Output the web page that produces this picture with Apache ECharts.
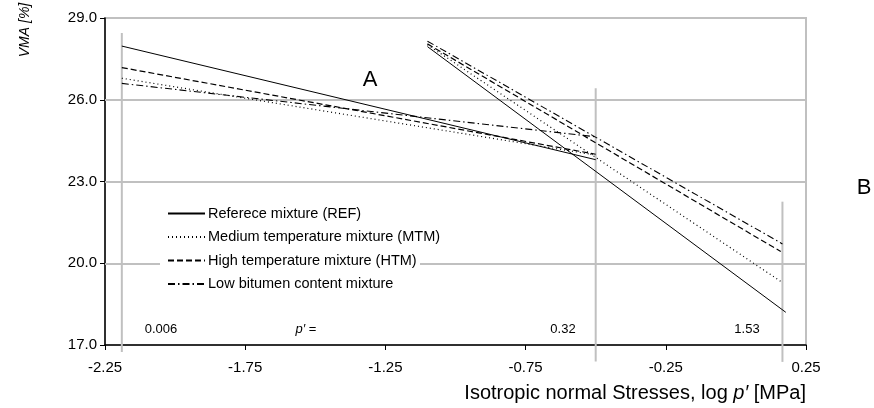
<!DOCTYPE html>
<html><head><meta charset="utf-8">
<script src="https://cdn.jsdelivr.net/npm/echarts@6/dist/echarts.min.js"></script>
<style>html,body{margin:0;padding:0;background:#fff}#c{width:874px;height:408px}</style>
</head><body><div id="c"></div>
<script>
// ---- data ----
const seriesNames = ['Referece mixture (REF)','Medium temperature mixture (MTM)','High temperature mixture (HTM)','Low bitumen content mixture'];
// first (flat) branch: x = log p'
const flatX = [-2.19, -0.50];
const flatREF = [27.97, 23.80];
const flatMTM = [26.79, 23.97];
const flatHTM = [27.18, 24.00];
const flatLBC = [26.60, 24.64];
// second (steep) branch
const steepX_REF = [-1.10, 0.178];
const steepX_MTM = [-1.10, 0.166];
const steepX_HTM = [-1.10, 0.160];
const steepX_LBC = [-1.10, 0.166];
const steepREF = [27.95, 18.20];
const steepMTM = [28.02, 19.29];
const steepHTM = [28.05, 20.43];
const steepLBC = [28.15, 20.71];
// stress markers p' = 0.006, 0.32, 1.53
const markerX = [-2.19, -0.50, 0.166];
const markerTop = [28.45, 26.42, 22.26];
const markerBottom = [16.74, 16.39, 16.38];
const markerLabels = ['0.006', '0.32', '1.53'];
const xTicks = [-2.25, -1.75, -1.25, -0.75, -0.25, 0.25];
const yTicks = [17, 20, 23, 26, 29];
const yGrid = [20, 23, 26];

const styles = [
  {type:'solid', width:1},
  {type:[1,3], width:1.2},
  {type:[6,3], width:1.2},
  {type:[7,3,1.5,3], width:1.1}
];
const flats = [flatREF, flatMTM, flatHTM, flatLBC];
const steeps = [steepREF, steepMTM, steepHTM, steepLBC];
const steepXs = [steepX_REF, steepX_MTM, steepX_HTM, steepX_LBC];

const series = [];
seriesNames.forEach((n,i)=>{
  const ls = Object.assign({color:'#000'}, styles[i]);
  series.push({name:n, type:'line', symbol:'none', lineStyle:ls, itemStyle:{color:'transparent'}, z:5,
    data: flatX.map((x,k)=>[x, flats[i][k]])});
  series.push({name:n, type:'line', symbol:'none', lineStyle:ls, itemStyle:{color:'transparent'}, z:5,
    data: steepXs[i].map((x,k)=>[x, steeps[i][k]])});
});
markerX.forEach((x,i)=>{
  const s = {type:'line', symbol:'none', clip:false, silent:true, z:2,
    lineStyle:{color:'#c0c0c0', width:2}, data:[[x, markerTop[i]],[x, markerBottom[i]]]};
  if(i===0){
    s.markLine = {silent:true, symbol:'none', label:{show:false}, z:1,
      lineStyle:{color:'#c0c0c0', width:2, type:'solid'}, data: yGrid.map(v=>({yAxis:v}))};
  }
  series.push(s);
});

const F = 'Liberation Sans, Arial, sans-serif';
const chart = echarts.init(document.getElementById('c'), null, {renderer:'canvas'});
chart.setOption({
  animation:false,
  backgroundColor:'#fff',
  textStyle:{fontFamily:F},
  grid:{left:105, right:68, top:18, bottom:63, show:true, borderColor:'#c0c0c0', borderWidth:2},
  xAxis:{type:'value', min:-2.25, max:0.25,
    axisLine:{onZero:false, lineStyle:{color:'#000', width:1.5}},
    axisTick:{customValues:xTicks, length:5, lineStyle:{color:'#000'}},
    axisLabel:{customValues:xTicks, formatter:v=>v.toFixed(2), color:'#000', fontSize:15, margin:15, fontFamily:F},
    splitLine:{show:false}},
  yAxis:{type:'value', min:17, max:29,
    axisLine:{show:true, onZero:false, lineStyle:{color:'#000', width:1.5}},
    axisTick:{show:true, customValues:yTicks, length:5, lineStyle:{color:'#000'}},
    axisLabel:{customValues:yTicks, formatter:v=>v.toFixed(1), color:'#000', fontSize:15, margin:8, fontFamily:F},
    splitLine:{show:false}},
  legend:{data:seriesNames, orient:'vertical', left:163, top:203, itemWidth:37, itemHeight:14, itemGap:8.5,
    itemStyle:{opacity:0}, padding:[3,4],
    textStyle:{fontSize:14.5, color:'#000', fontFamily:F, padding:[0,0,0,-2]}},
  series:series,
  graphic:[
    {type:'rect', z:3, shape:{x:160, y:197, width:260, height:95}, style:{fill:'#fff'}, silent:true},
    {type:'text', x:370, y:80, style:{text:'A', fontSize:22, fontFamily:F, fill:'#000', align:'center', verticalAlign:'middle'}},
    {type:'text', x:864, y:188, style:{text:'B', fontSize:22, fontFamily:F, fill:'#000', align:'center', verticalAlign:'middle'}},
    {type:'text', x:161, y:329, style:{text:markerLabels[0], fontSize:13, fontFamily:F, fill:'#000', align:'center', verticalAlign:'middle'}},
    {type:'text', x:306, y:329, style:{text:'{i|p′} =', fontSize:13, fontFamily:F, fill:'#000', align:'center', verticalAlign:'middle', rich:{i:{fontStyle:'italic', fontSize:13, fontFamily:F}}}},
    {type:'text', x:563, y:329, style:{text:markerLabels[1], fontSize:13, fontFamily:F, fill:'#000', align:'center', verticalAlign:'middle'}},
    {type:'text', x:747, y:329, style:{text:markerLabels[2], fontSize:13, fontFamily:F, fill:'#000', align:'center', verticalAlign:'middle'}},
    {type:'text', x:806, y:393, style:{text:'Isotropic normal Stresses, log {i|p′} [MPa]', fontSize:20, fontFamily:F, fill:'#000', align:'right', verticalAlign:'middle', rich:{i:{fontStyle:'italic', fontSize:20, fontFamily:F}}}},
    {type:'text', x:25, y:30, rotation:Math.PI/2, style:{text:'VMA [%]', fontSize:14, fontStyle:'italic', fontFamily:F, fill:'#000', align:'center', verticalAlign:'middle'}}
  ]
});
</script></body></html>
